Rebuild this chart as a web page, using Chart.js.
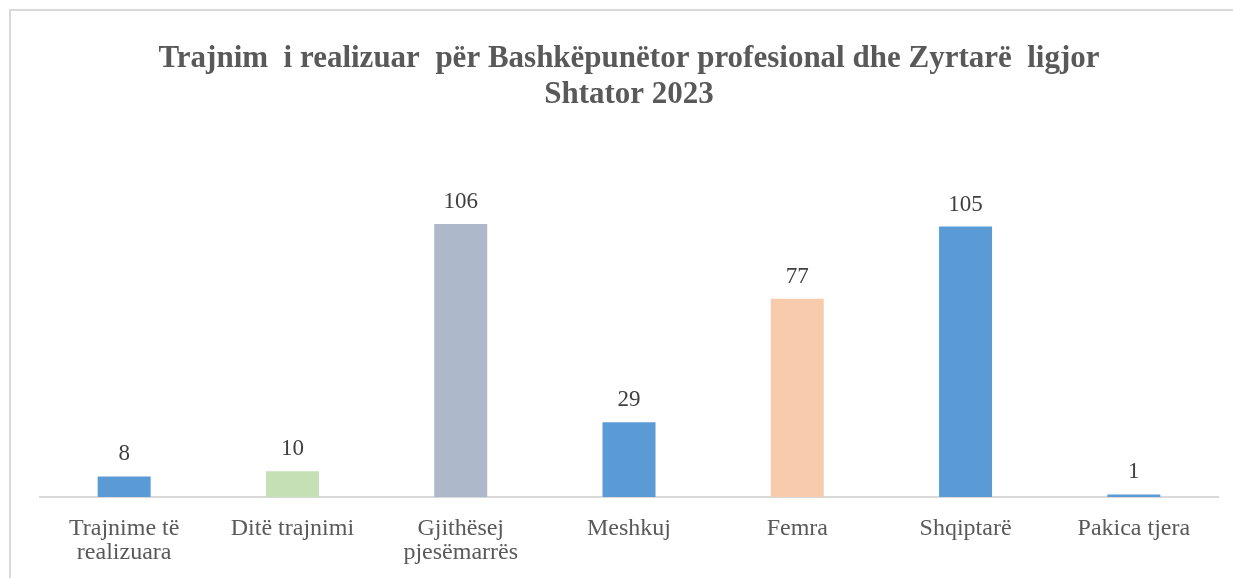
<!DOCTYPE html>
<html>
<head>
<meta charset="utf-8">
<script src="https://cdn.jsdelivr.net/npm/chart.js@4.4.0/dist/chart.umd.min.js"></script>
<style>
  html, body { margin: 0; padding: 0; background: #fff; overflow: hidden; }
  #frame { position: absolute; left: 9px; top: 9px; width: 1300px; height: 640px;
           border-left: 2px solid #d9d9d9; border-top: 2px solid #d9d9d9; }
  #wrap { position: absolute; left: 0; top: 0; width: 1233px; height: 578px; }
</style>
</head>
<body>
<div id="frame"></div>
<div id="wrap"><canvas id="chart" width="1233" height="578"></canvas></div>
<script>
const categories = [
  ["Trajnime të", "realizuara"],
  "Ditë trajnimi",
  ["Gjithësej", "pjesëmarrës"],
  "Meshkuj",
  "Femra",
  "Shqiptarë",
  "Pakica tjera"
];
const values = [8, 10, 106, 29, 77, 105, 1];
const barColors = ["#5B9BD5", "#C5E0B4", "#ADB9CA", "#5B9BD5", "#F8CBAD", "#5B9BD5", "#5B9BD5"];
const titleLines = [
  "Trajnim  i realizuar  për Bashkëpunëtor profesional dhe Zyrtarë  ligjor",
  "Shtator 2023"
];

const serif = "'Liberation Serif', 'Times New Roman', serif";

// value labels above each bar
const valueLabels = {
  id: "valueLabels",
  afterDatasetsDraw(chart) {
    const c = chart.ctx;
    const meta = chart.getDatasetMeta(0);
    c.save();
    c.font = "23px " + serif;
    c.fillStyle = "#404040";
    c.textAlign = "center";
    c.textBaseline = "alphabetic";
    meta.data.forEach((bar, i) => {
      c.fillText(String(values[i]), bar.x, bar.y - 16);
    });
    c.restore();
  }
};

new Chart(document.getElementById("chart"), {
  type: "bar",
  data: {
    labels: categories,
    datasets: [{
      data: values,
      backgroundColor: barColors,
      borderWidth: 0,
      categoryPercentage: 1,
      barPercentage: 0.315
    }]
  },
  options: {
    responsive: false,
    animation: false,
    devicePixelRatio: 1,
    layout: { padding: { left: 40, right: 15, top: 10, bottom: 0 } },
    plugins: {
      legend: { display: false },
      tooltip: { enabled: false },
      title: {
        display: true,
        text: titleLines,
        color: "#595959",
        font: { family: serif, size: 31, weight: "bold", lineHeight: 1.16 },
        padding: { top: 31, bottom: 75 }
      }
    },
    scales: {
      x: {
        grid: { display: false },
        border: { display: true, color: "#d9d9d9", width: 2 },
        afterFit(scale) { scale.height = 81; },
        ticks: {
          color: "#595959",
          padding: 11,
          maxRotation: 0,
          autoSkip: false,
          font: { family: serif, size: 24, lineHeight: 1.02 }
        }
      },
      y: {
        display: false,
        min: 0,
        max: 120
      }
    }
  },
  plugins: [valueLabels]
});
</script>
</body>
</html>
